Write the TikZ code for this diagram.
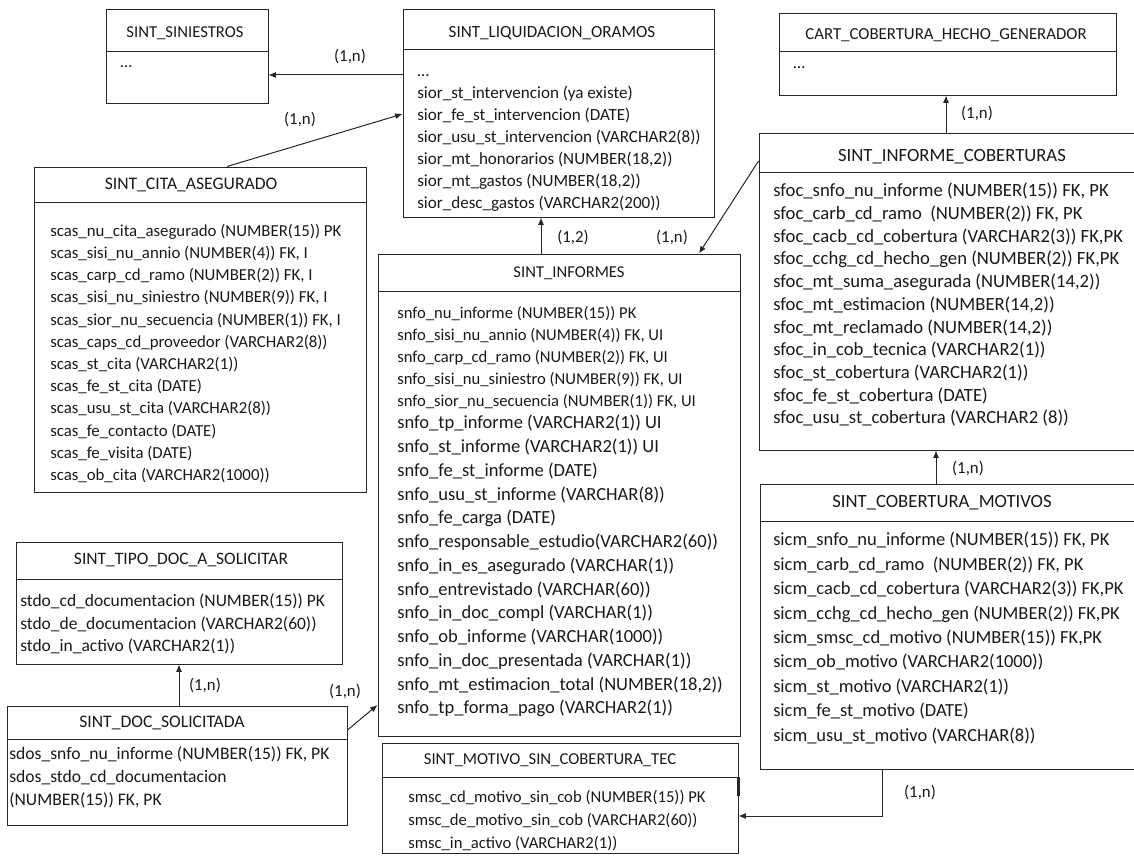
\documentclass[tikz,border=0pt]{standalone}
\usepackage{fontspec}
\setmainfont{Carlito}
\usetikzlibrary{arrows.meta,fit,calc}

\begin{document}
\begin{tikzpicture}[
  x=0.75pt, y=-0.75pt,
  tabla/.style={draw=black!85, line width=0.75pt, inner sep=0pt},
  titulo/.style={font={\fontsize{#1}{14}\selectfont}, text=black!90, inner sep=0pt},
  campos/.style 2 args={anchor=north west, align=left, inner sep=0pt, text=black!90, font={\fontsize{#1}{#2}\selectfont}},
  sep/.style={draw=black!85, line width=0.75pt},
  rel/.style={-{Latex[length=5.5pt,width=4.5pt]}, line width=0.75pt, black!85},
  card/.style={font={\fontsize{12.6}{14}\selectfont}, text=black!90, inner sep=0pt}
]
  \useasboundingbox (0,0) rectangle (1134,856);

  % tablas
  \node[tabla, fit={(106,10) (268,103)}] (sin) {};
  \node[titulo=12.5] (sin-t) at (185,33) {SINT\_SINIESTROS};
  \draw[sep] (sin.west |- 0,52) -- (sin.east |- 0,52);
  \node[campos={12.5}{16.5}] (sin-c) at (120,51.6) {\strut …};

  \node[tabla, fit={(403,10) (714,217)}] (liq) {};
  \node[titulo=12.8] (liq-t) at (552,33) {SINT\_LIQUIDACION\_ORAMOS};
  \draw[sep] (liq.west |- 0,50) -- (liq.east |- 0,50);
  \node[campos={12.8}{16.5}] (liq-c) at (417,60.7) {\strut …\\
    sior\_st\_intervencion (ya existe)\\
    sior\_fe\_st\_intervencion (DATE)\\
    sior\_usu\_st\_intervencion (VARCHAR2(8))\\
    sior\_mt\_honorarios (NUMBER(18,2))\\
    sior\_mt\_gastos (NUMBER(18,2))\\
    sior\_desc\_gastos (VARCHAR2(200))};

  \node[tabla, fit={(779,14) (1116,95)}] (cart) {};
  \node[titulo=12.6] (cart-t) at (946,35) {CART\_COBERTURA\_HECHO\_GENERADOR};
  \draw[sep] (cart.west |- 0,52) -- (cart.east |- 0,52);
  \node[campos={12.6}{16.5}] (cart-c) at (793,52.6) {\strut …};

  \node[tabla, fit={(34,167) (366,492)}] (cita) {};
  \node[titulo=13.2] (cita-t) at (191,185) {SINT\_CITA\_ASEGURADO};
  \draw[sep] (cita.west |- 0,202) -- (cita.east |- 0,202);
  \node[campos={12.6}{16.65}] (cita-c) at (50,220.5) {\strut scas\_nu\_cita\_asegurado (NUMBER(15)) PK\\
    scas\_sisi\_nu\_annio (NUMBER(4)) FK, I\\
    scas\_carp\_cd\_ramo (NUMBER(2)) FK, I\\
    scas\_sisi\_nu\_siniestro (NUMBER(9)) FK, I\\
    scas\_sior\_nu\_secuencia (NUMBER(1)) FK, I\\
    scas\_caps\_cd\_proveedor (VARCHAR2(8))\\
    scas\_st\_cita (VARCHAR2(1))\\
    scas\_fe\_st\_cita (DATE)\\
    scas\_usu\_st\_cita (VARCHAR2(8))\\
    scas\_fe\_contacto (DATE)\\
    scas\_fe\_visita (DATE)\\
    scas\_ob\_cita (VARCHAR2(1000))};

  \node[tabla, fit={(759,133) (1145,450)}] (cob) {};
  \node[titulo=14] (cob-t) at (952,157) {SINT\_INFORME\_COBERTURAS};
  \draw[sep] (cob.west |- 0,172) -- (cob.east |- 0,172);
  \node[campos={14}{17.03}] (cob-c) at (773,180.7) {\strut sfoc\_snfo\_nu\_informe (NUMBER(15)) FK, PK\\
    sfoc\_carb\_cd\_ramo\ \ (NUMBER(2)) FK, PK\\
    sfoc\_cacb\_cd\_cobertura (VARCHAR2(3)) FK,PK\\
    sfoc\_cchg\_cd\_hecho\_gen (NUMBER(2)) FK,PK\\
    sfoc\_mt\_suma\_asegurada (NUMBER(14,2))\\
    sfoc\_mt\_estimacion (NUMBER(14,2))\\
    sfoc\_mt\_reclamado (NUMBER(14,2))\\
    sfoc\_in\_cob\_tecnica (VARCHAR2(1))\\
    sfoc\_st\_cobertura (VARCHAR2(1))\\
    sfoc\_fe\_st\_cobertura (DATE)\\
    sfoc\_usu\_st\_cobertura (VARCHAR2 (8))};

  \node[tabla, fit={(378,254) (740,736)}] (inf) {};
  \node[titulo=12.45] (inf-t) at (569,273) {SINT\_INFORMES};
  \draw[sep] (inf.west |- 0,291) -- (inf.east |- 0,291);
  \node[campos={12.45}{16.5}] (inf-c) at (397,302.6) {\strut snfo\_nu\_informe (NUMBER(15)) PK\\
    snfo\_sisi\_nu\_annio (NUMBER(4)) FK, UI\\
    snfo\_carp\_cd\_ramo (NUMBER(2)) FK, UI\\
    snfo\_sisi\_nu\_siniestro (NUMBER(9)) FK, UI\\
    snfo\_sior\_nu\_secuencia (NUMBER(1)) FK, UI};
  \node[campos={13.9}{17.81}] (inf-d) at (397,412) {\strut snfo\_tp\_informe (VARCHAR2(1)) UI\\
    snfo\_st\_informe (VARCHAR2(1)) UI\\
    snfo\_fe\_st\_informe (DATE)\\
    snfo\_usu\_st\_informe (VARCHAR(8))\\
    snfo\_fe\_carga (DATE)\\
    snfo\_responsable\_estudio(VARCHAR2(60))\\
    snfo\_in\_es\_asegurado (VARCHAR(1))\\
    snfo\_entrevistado (VARCHAR(60))\\
    snfo\_in\_doc\_compl (VARCHAR(1))\\
    snfo\_ob\_informe (VARCHAR(1000))\\
    snfo\_in\_doc\_presentada (VARCHAR(1))\\
    snfo\_mt\_estimacion\_total (NUMBER(18,2))\\
    snfo\_tp\_forma\_pago (VARCHAR2(1))};

  \node[tabla, fit={(382,743) (738,853)}] (msc) {};
  \node[titulo=12.5] (msc-t) at (550,760) {SINT\_MOTIVO\_SIN\_COBERTURA\_TEC};
  \draw[sep] (msc.west |- 0,777) -- (msc.east |- 0,777);
  \draw[line width=1.6pt, black!85] (msc.east |- 0,777) -- (msc.east |- 0,796);
  \node[campos={12.5}{17.25}] (msc-c) at (408,785.9) {\strut smsc\_cd\_motivo\_sin\_cob (NUMBER(15)) PK\\
    smsc\_de\_motivo\_sin\_cob (VARCHAR2(60))\\
    smsc\_in\_activo (VARCHAR2(1))};

  \node[tabla, fit={(16,542) (342,664)}] (tipo) {};
  \node[titulo=13.1] (tipo-t) at (181,560) {SINT\_TIPO\_DOC\_A\_SOLICITAR};
  \draw[sep] (tipo.west |- 0,579) -- (tipo.east |- 0,579);
  \node[campos={13.1}{16.88}] (tipo-c) at (20,590.5) {\strut stdo\_cd\_documentacion (NUMBER(15)) PK\\
    stdo\_de\_documentacion (VARCHAR2(60))\\
    stdo\_in\_activo (VARCHAR2(1))};

  \node[tabla, fit={(7,706) (347,825)}] (doc) {};
  \node[titulo=13.2] (doc-t) at (162,723) {SINT\_DOC\_SOLICITADA};
  \draw[sep] (doc.west |- 0,739) -- (doc.east |- 0,739);
  \node[campos={13.2}{17.25}] (doc-c) at (9,743.2) {\strut sdos\_snfo\_nu\_informe (NUMBER(15)) FK, PK\\
    sdos\_stdo\_cd\_documentacion\\
    (NUMBER(15)) FK, PK};

  \node[tabla, fit={(760,484) (1140,769)}] (mot) {};
  \node[titulo=14] (mot-t) at (942,503) {SINT\_COBERTURA\_MOTIVOS};
  \draw[sep] (mot.west |- 0,521) -- (mot.east |- 0,521);
  \node[campos={13.85}{18.3}] (mot-c) at (773,528.5) {\strut sicm\_snfo\_nu\_informe (NUMBER(15)) FK, PK\\
    sicm\_carb\_cd\_ramo\ \ (NUMBER(2)) FK, PK\\
    sicm\_cacb\_cd\_cobertura (VARCHAR2(3)) FK,PK\\
    sicm\_cchg\_cd\_hecho\_gen (NUMBER(2)) FK,PK\\
    sicm\_smsc\_cd\_motivo (NUMBER(15)) FK,PK\\
    sicm\_ob\_motivo (VARCHAR2(1000))\\
    sicm\_st\_motivo (VARCHAR2(1))\\
    sicm\_fe\_st\_motivo (DATE)\\
    sicm\_usu\_st\_motivo (VARCHAR(8))};

  % relaciones
  \draw[rel] (liq.west |- 0,75) -- (sin.east |- 0,75);
  \node[card] (r1) at (350,57) {(1,n)};
  \draw[rel] (cita.north -| 227,0) -- (liq.west |- 0,114);
  \node[card] (r2) at (300,120) {(1,n)};
  \draw[rel] (inf.north -| 541,0) -- (liq.south -| 541,0);
  \node[card] (r3) at (573,238) {(1,2)};
  \draw[rel] (cob.west |- 0,161) -- (inf.north -| 699,0);
  \node[card] (r4) at (672,238) {(1,n)};
  \draw[rel] (cob.north -| 946,0) -- (cart.south -| 946,0);
  \node[card] (r5) at (977,114) {(1,n)};
  \draw[rel] (mot.north -| 936,0) -- (cob.south -| 936,0);
  \node[card] (r6) at (968,469) {(1,n)};
  \draw[rel] (mot.south -| 882,0) |- (msc.east |- 0,816);
  \node[card] (r7) at (920,793) {(1,n)};
  \draw[rel] (doc.north -| 179,0) -- (tipo.south -| 179,0);
  \node[card] (r8) at (205,686) {(1,n)};
  \draw[rel] (doc.east |- 0,730) -- (inf.west |- 0,705);
  \node[card] (r9) at (345,692) {(1,n)};
\end{tikzpicture}
\end{document}
